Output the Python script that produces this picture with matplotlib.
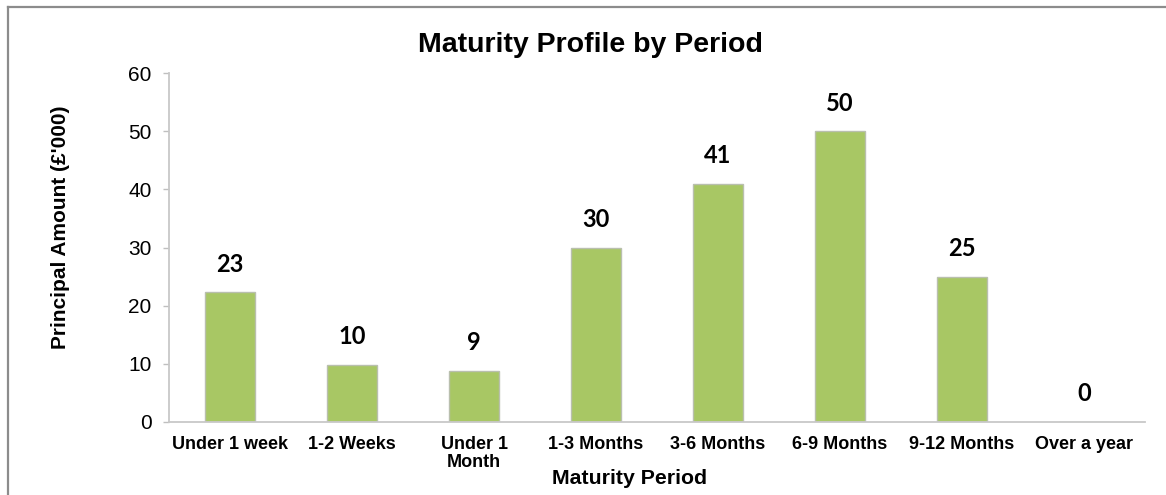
import matplotlib
matplotlib.use('Agg')
import matplotlib.pyplot as plt
import numpy as np
from matplotlib.lines import Line2D

## chart data
categories = ['Under 1 week', '1-2 Weeks', 'Under 1\nMonth', '1-3 Months',
              '3-6 Months', '6-9 Months', '9-12 Months', 'Over a year']
amounts = [22.3, 9.8, 8.8, 30, 41, 50, 25, 0]
amount_labels = ['23', '10', '9', '30', '41', '50', '25', '0']
yticks = [0, 10, 20, 30, 40, 50, 60]

title = 'Maturity Profile by Period'
xlabel = 'Maturity Period'
ylabel = "Principal Amount (£'000)"

plt.rcParams['font.family'] = ['Liberation Sans', 'DejaVu Sans']

fig = plt.figure(figsize=(11.66, 4.95), dpi=100)
ax = fig.add_axes([0.145, 0.1475, 0.837, 0.705])

x = np.arange(len(categories))
ax.bar(x, amounts, width=0.41, color='#a8c764',
       edgecolor='#b9bfae', linewidth=1.0, zorder=2)

## value labels above bars
for xi, yi, lab in zip(x, amounts, amount_labels):
    ax.annotate(lab, (xi, yi), xytext=(0, 12), textcoords='offset points',
                ha='center', va='bottom', fontsize=17, fontweight='bold',
                family=['Lato', 'DejaVu Sans'], color='black')

ax.set_xlim(-0.5, len(categories) - 0.5)
ax.set_ylim(0, 60)
ax.set_yticks(yticks)
ax.set_xticks(x)
ax.set_xticklabels(categories, fontsize=13, fontweight='bold',
                   linespacing=1.1)
ax.tick_params(axis='x', length=0, pad=10)
ax.tick_params(axis='y', length=4.5, width=1, color='#bfbfbf',
               labelsize=15, pad=8)

for side in ('top', 'right'):
    ax.spines[side].set_visible(False)
for side in ('left', 'bottom'):
    ax.spines[side].set_color('#c8c8c8')
    ax.spines[side].set_linewidth(1.3)

## titles as figure text
fig.text(0.506, 0.909, title, ha='center', va='center',
         fontsize=20.5, fontweight='bold')
fig.text(0.540, 0.034, xlabel, ha='center', va='center',
         fontsize=15.3, fontweight='bold')
fig.text(0.0515, 0.54, ylabel, ha='center', va='center', rotation=90,
         fontsize=15, fontweight='bold')

## outer chart frame (top and left edges visible)
fig.add_artist(Line2D([0.007, 1.0], [0.986, 0.986], color='#8c8c8c',
                      linewidth=1.6, transform=fig.transFigure))
fig.add_artist(Line2D([0.007, 0.007], [0.0, 0.986], color='#8c8c8c',
                      linewidth=1.6, transform=fig.transFigure))

fig.savefig('out.png', dpi=100, facecolor='white')
